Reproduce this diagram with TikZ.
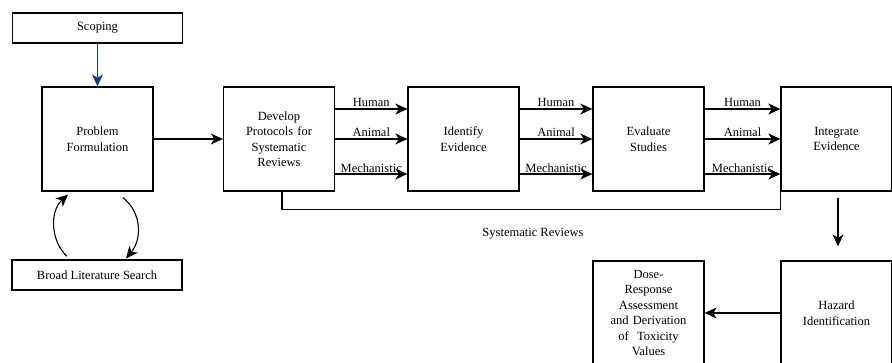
\documentclass[tikz,border=0pt]{standalone}
\usepackage{fontspec}
\setmainfont{Liberation Serif}
\usetikzlibrary{arrows.meta,calc}
\definecolor{navy}{HTML}{1F3A7A}
\begin{document}
\begin{tikzpicture}[x=1pt,y=-1pt,
  font=\fontsize{12.5}{15.5}\selectfont,
  box/.style={draw,line width=1.3pt,inner sep=0pt,align=center,
    minimum width=111pt,minimum height=104pt,text width=105pt},
  wide/.style={draw,line width=1.3pt,inner sep=0pt,align=center,
    minimum width=170pt,minimum height=30pt},
  conn/.style={line width=1.1pt,-{Stealth[length=12pt,width=11pt,inset=3.5pt]}},
  lbl/.style={anchor=south,inner sep=1.5pt}]
\useasboundingbox (0,0) rectangle (892,362);

% boxes
\node[wide] (scope) at (97.5,28) {Scoping};
\node[box] (prob) at (97.5,139) {Problem\\Formulation};
\node[wide] (search) at (97,275) {Broad Literature Search};
\node[box] (dev) at (279,139) {Develop\\Protocols for\\Systematic\\Reviews};
\node[box] (ident) at (463.5,139) {Identify\\Evidence};
\node[box] (eval) at (648.5,139) {Evaluate\\Studies};
\node[box] (integ) at (836.5,139) {Integrate\\Evidence};
\node[box] (hazard) at (836.5,313) {Hazard\\Identification};
\node[box] (dose) at (648.5,313) {Dose-\\Response\\Assessment\\and Derivation\\of\ \ Toxicity\\Values};

% scoping and problem formulation
\draw[conn,navy] (scope.south) -- (prob.north);
\draw[conn] (prob.east) -- (dev.west);
\draw[conn] ([xshift=-30pt,yshift=3pt]search.north) .. controls +(-17,-16) and +(-18,16) .. ([xshift=-29.5pt,yshift=-3pt]prob.south);
\draw[conn] ([xshift=25.5pt,yshift=-6pt]prob.south) .. controls +(19,15) and +(16,-19) .. ([xshift=29pt,yshift=1pt]search.north);

% three evidence streams between the stages
\foreach \a/\b in {dev/ident,ident/eval,eval/integ}{
  \draw[conn] ([yshift=30pt]\a.east) -- node[lbl]{Human} ([yshift=30pt]\b.west);
  \draw[conn] (\a.east) -- node[lbl]{Animal} (\b.west);
  \draw[conn] ([yshift=-35pt]\a.east) -- node[lbl,inner sep=0.5pt]{Mechanistic} ([yshift=-35pt]\b.west);
}

% systematic review loop
\draw[line width=1.1pt] ([xshift=3pt]dev.south) -- ++(0,18) -| (integ.south west);
\node at (533,234) {Systematic Reviews};

% hazard identification and dose-response
\draw[conn] ([xshift=1.5pt,yshift=-6pt]integ.south) -- ([xshift=1.5pt,yshift=14pt]hazard.north);
\draw[conn] (hazard.west) -- (dose.east);
\end{tikzpicture}
\end{document}
